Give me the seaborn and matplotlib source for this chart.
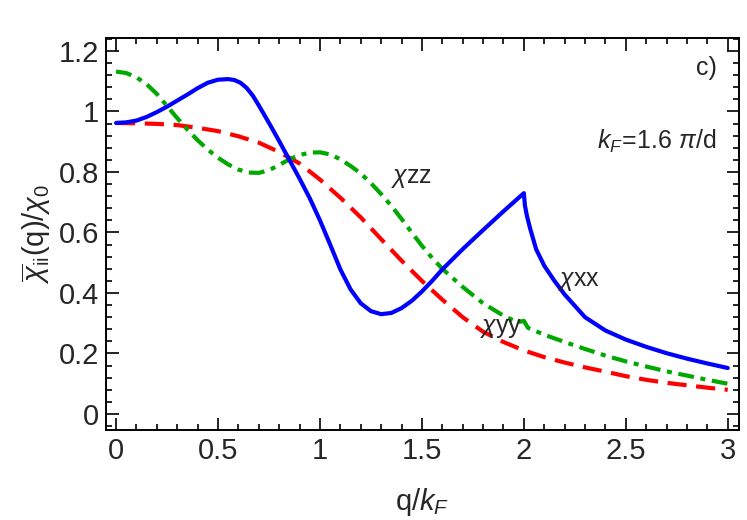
import numpy as np
import matplotlib
matplotlib.use("Agg")
import matplotlib.pyplot as plt
from matplotlib.ticker import MultipleLocator, FixedLocator
import pandas as pd
import seaborn as sns

# values
q_xx = [0.00, 0.05, 0.10, 0.15, 0.20, 0.25, 0.30, 0.35, 0.40, 0.45, 0.50, 0.55, 0.58,
        0.61, 0.64, 0.67, 0.70, 0.75, 0.80, 0.85, 0.90, 0.95, 1.00, 1.05, 1.10, 1.15,
        1.20, 1.25, 1.30, 1.35, 1.40, 1.45, 1.50, 1.55, 1.60, 1.70, 1.80, 1.90, 2.00,
        2.005, 2.015, 2.03, 2.06, 2.10, 2.15, 2.20, 2.30, 2.40, 2.50, 2.60, 2.70, 2.80,
        2.90, 3.00]
chi_xx = [0.962, 0.964, 0.970, 0.982, 0.998, 1.016, 1.036, 1.056, 1.077, 1.095, 1.105, 1.107, 1.104,
          1.095, 1.078, 1.053, 1.020, 0.962, 0.902, 0.840, 0.778, 0.713, 0.640, 0.560, 0.478, 0.412,
          0.366, 0.340, 0.330, 0.334, 0.350, 0.374, 0.405, 0.440, 0.478, 0.545, 0.608, 0.670, 0.730,
          0.690, 0.655, 0.615, 0.545, 0.490, 0.440, 0.395, 0.320, 0.276, 0.246, 0.222, 0.201, 0.183,
          0.167, 0.152]

q_yy = [0.00, 0.10, 0.20, 0.30, 0.40, 0.50, 0.60, 0.70, 0.80, 0.90, 1.00, 1.10, 1.20,
        1.30, 1.40, 1.50, 1.60, 1.70, 1.80, 1.90, 2.00, 2.10, 2.20, 2.30, 2.40, 2.50,
        2.60, 2.70, 2.80, 2.90, 3.00]
chi_yy = [0.962, 0.961, 0.959, 0.955, 0.946, 0.935, 0.918, 0.897, 0.866, 0.828, 0.775, 0.715, 0.650,
          0.578, 0.507, 0.440, 0.378, 0.320, 0.272, 0.238, 0.210, 0.188, 0.170, 0.154, 0.140, 0.125,
          0.113, 0.103, 0.095, 0.087, 0.080]

q_zz = [0.00, 0.05, 0.10, 0.15, 0.20, 0.25, 0.30, 0.35, 0.40, 0.45, 0.50, 0.55, 0.60,
        0.65, 0.70, 0.75, 0.80, 0.85, 0.90, 0.95, 1.00, 1.05, 1.10, 1.15, 1.20, 1.25,
        1.30, 1.35, 1.40, 1.45, 1.50, 1.55, 1.60, 1.70, 1.80, 1.90, 1.97, 2.00, 2.02,
        2.10, 2.20, 2.30, 2.40, 2.50, 2.60, 2.70, 2.80, 2.90, 3.00]
chi_zz = [1.132, 1.127, 1.113, 1.090, 1.058, 1.018, 0.978, 0.940, 0.905, 0.874, 0.847, 0.825, 0.808,
          0.798, 0.797, 0.806, 0.823, 0.842, 0.856, 0.864, 0.865, 0.858, 0.842, 0.820, 0.795, 0.763,
          0.727, 0.688, 0.645, 0.600, 0.556, 0.516, 0.480, 0.420, 0.366, 0.325, 0.303, 0.308, 0.285,
          0.262, 0.238, 0.215, 0.193, 0.174, 0.157, 0.141, 0.127, 0.113, 0.100]

sns.set_style("ticks")
plt.rcParams['font.family'] = ['Liberation Sans', 'DejaVu Sans']
plt.rcParams['mathtext.fontset'] = 'custom'
plt.rcParams['mathtext.rm'] = 'Liberation Sans'
plt.rcParams['mathtext.it'] = 'Liberation Sans:italic'

fig = plt.figure(figsize=(7.47, 5.2), dpi=100)
ax = fig.add_axes([0.142, 0.173, 0.847, 0.754])

df_xx = pd.DataFrame({"q": q_xx, "chi": chi_xx})
df_yy = pd.DataFrame({"q": q_yy, "chi": chi_yy})
df_zz = pd.DataFrame({"q": q_zz, "chi": chi_zz})

sns.lineplot(data=df_yy, x="q", y="chi", ax=ax, color="#ff0000", lw=3.0,
             linestyle=(0, (4.6, 2.3)), dash_capstyle="butt")
sns.lineplot(data=df_zz, x="q", y="chi", ax=ax, color="#00a800", lw=3.0,
             linestyle=(0, (3.8, 1.6, 1.2, 1.6)), dash_capstyle="butt")
sns.lineplot(data=df_xx, x="q", y="chi", ax=ax, color="#0000ff", lw=3.0)

ax.set_xlim(-0.049, 3.054)
ax.set_ylim(-0.053, 1.243)

ax.xaxis.set_major_locator(FixedLocator([0, 0.5, 1, 1.5, 2, 2.5, 3]))
ax.xaxis.set_minor_locator(MultipleLocator(0.1))
ax.yaxis.set_major_locator(FixedLocator([0, 0.2, 0.4, 0.6, 0.8, 1.0, 1.2]))
ax.yaxis.set_minor_locator(MultipleLocator(0.04))
ax.set_xticklabels(["0", "0.5", "1", "1.5", "2", "2.5", "3"])
ax.set_yticklabels(["0", "0.2", "0.4", "0.6", "0.8", "1", "1.2"])
ax.tick_params(which="both", direction="in", top=True, right=True, width=1.2, color="black")
ax.tick_params(which="major", length=9, labelsize=21, pad=5)
ax.tick_params(which="minor", length=4.5)
for s in ax.spines.values():
    s.set_linewidth(1.4)
    s.set_color("black")

ax.set_xlabel(r"q/$k_F$", fontsize=21, labelpad=15)
ax.set_ylabel(r"$\overline{\chi}_{\mathrm{ii}}\mathrm{(q)/}\chi_0$", fontsize=21, labelpad=4)

ax.text(0.965, 0.955, "c)", transform=ax.transAxes, fontsize=18, ha="right", va="top")
ax.text(0.965, 0.735, r"$k_F\!=\!$1.6 $\pi$/d", transform=ax.transAxes, fontsize=18,
        ha="right", va="center")
ax.text(1.45, 0.78, r"$\chi$zz", fontsize=18, ha="center", va="center")
ax.text(2.27, 0.44, r"$\chi$xx", fontsize=18, ha="center", va="center")
ax.text(1.89, 0.285, r"$\chi$yy", fontsize=18, ha="center", va="center")

fig.savefig("out.png", dpi=100)
